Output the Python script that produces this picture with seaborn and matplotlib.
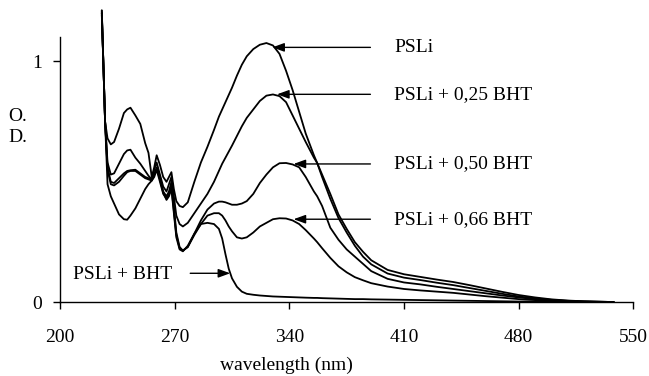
import numpy as np
import pandas as pd
import matplotlib
matplotlib.use("Agg")
import matplotlib.pyplot as plt
import seaborn as sns

# wavelength grid (nm) shared by all spectra
wavelength = [225.5, 226.5, 227.5, 229, 231, 233, 236, 239, 241, 243, 246, 249, 252, 254, 256,
              257.5, 259, 261, 263, 265, 266.5, 268, 269.5, 271, 273, 275, 278, 282, 286, 290,
              294, 297, 299, 301, 303, 305, 308, 311, 314, 318, 322, 326, 330, 334, 338, 342,
              346, 350, 355, 357, 360, 365, 370, 375, 380, 385, 390, 400, 410, 420, 430, 440,
              450, 460, 470, 480, 490, 500, 510, 520, 530, 538]

od_psli = [1.21, 0.98, 0.75, 0.68, 0.655, 0.665, 0.72, 0.785, 0.80, 0.807, 0.775, 0.74, 0.66, 0.62, 0.52,
           0.56, 0.61, 0.57, 0.52, 0.50, 0.52, 0.54, 0.47, 0.42, 0.40, 0.395, 0.415, 0.50, 0.58, 0.645,
           0.715, 0.77, 0.80, 0.83, 0.86, 0.89, 0.94, 0.985, 1.02, 1.05, 1.068, 1.075, 1.065, 1.03, 0.96, 0.88,
           0.79, 0.70, 0.61, 0.578, 0.52, 0.43, 0.35, 0.29, 0.235, 0.19, 0.158, 0.12, 0.103, 0.093, 0.082, 0.072,
           0.06, 0.048, 0.036, 0.025, 0.017, 0.011, 0.007, 0.004, 0.003, 0.002]

od_025 = [1.20, 0.98, 0.75, 0.58, 0.53, 0.535, 0.575, 0.615, 0.63, 0.633, 0.60, 0.575, 0.545, 0.525, 0.51,
          0.55, 0.58, 0.53, 0.48, 0.46, 0.49, 0.52, 0.44, 0.36, 0.325, 0.315, 0.33, 0.37, 0.41, 0.45,
          0.50, 0.545, 0.575, 0.60, 0.625, 0.65, 0.69, 0.73, 0.765, 0.80, 0.835, 0.857, 0.862, 0.855, 0.83, 0.775,
          0.72, 0.665, 0.60, 0.578, 0.53, 0.45, 0.365, 0.305, 0.25, 0.21, 0.175, 0.135, 0.117, 0.106, 0.095, 0.085,
          0.072, 0.058, 0.044, 0.031, 0.021, 0.013, 0.008, 0.005, 0.003, 0.002]

od_050 = [1.21, 0.98, 0.75, 0.56, 0.50, 0.495, 0.515, 0.535, 0.545, 0.548, 0.55, 0.535, 0.52, 0.515, 0.508,
          0.53, 0.56, 0.52, 0.46, 0.44, 0.46, 0.50, 0.40, 0.29, 0.23, 0.215, 0.23, 0.285, 0.34, 0.385,
          0.41, 0.418, 0.418, 0.415, 0.41, 0.405, 0.405, 0.41, 0.42, 0.45, 0.495, 0.53, 0.56, 0.577, 0.578, 0.572,
          0.56, 0.52, 0.46, 0.44, 0.40, 0.31, 0.26, 0.22, 0.19, 0.16, 0.13, 0.098, 0.083, 0.075, 0.065, 0.056,
          0.047, 0.038, 0.029, 0.021, 0.014, 0.009, 0.006, 0.004, 0.003, 0.002]

od_066 = [1.19, 0.98, 0.75, 0.49, 0.44, 0.41, 0.365, 0.345, 0.343, 0.36, 0.39, 0.43, 0.47, 0.49, 0.505,
          0.52, 0.55, 0.50, 0.45, 0.43, 0.45, 0.48, 0.38, 0.28, 0.225, 0.215, 0.23, 0.28, 0.325, 0.36,
          0.37, 0.37, 0.36, 0.34, 0.315, 0.295, 0.27, 0.265, 0.27, 0.29, 0.315, 0.33, 0.345, 0.349, 0.348, 0.34,
          0.325, 0.30, 0.265, 0.25, 0.225, 0.185, 0.15, 0.125, 0.105, 0.092, 0.08, 0.066, 0.056, 0.05, 0.045, 0.04,
          0.033, 0.026, 0.02, 0.014, 0.01, 0.006, 0.004, 0.003, 0.002, 0.002]

od_bht = [1.20, 0.98, 0.75, 0.55, 0.49, 0.485, 0.50, 0.525, 0.54, 0.545, 0.545, 0.53, 0.515, 0.51, 0.505,
          0.53, 0.555, 0.51, 0.455, 0.425, 0.44, 0.47, 0.37, 0.27, 0.22, 0.212, 0.235, 0.285, 0.325, 0.33,
          0.325, 0.305, 0.265, 0.20, 0.14, 0.10, 0.065, 0.045, 0.036, 0.032, 0.029, 0.027, 0.025, 0.024, 0.023, 0.022,
          0.021, 0.02, 0.019, 0.019, 0.018, 0.017, 0.016, 0.015, 0.014, 0.014, 0.013, 0.012, 0.011, 0.01, 0.009, 0.008,
          0.007, 0.006, 0.005, 0.004, 0.004, 0.003, 0.003, 0.002, 0.002, 0.002]

series_names = ["PSLi", "PSLi + 0,25 BHT", "PSLi + 0,50 BHT", "PSLi + 0,66 BHT", "PSLi + BHT"]
series_values = [od_psli, od_025, od_050, od_066, od_bht]

# arrow tips (wavelength, O.D.) for the four labels on the right
label_tips_x = [329.6, 332.5, 342.6, 342.6]
label_tips_y = [1.057, 0.8625, 0.574, 0.345]

sns.set_style("ticks")
plt.rcParams["font.family"] = ["Liberation Serif", "DejaVu Serif"]
plt.rcParams["font.size"] = 14

fig, ax = plt.subplots(figsize=(6.49, 3.76), dpi=100)
fig.subplots_adjust(left=0.0925, right=0.9758, bottom=0.1955, top=0.9016)

for name, values in zip(series_names, series_values):
    sns.lineplot(x=wavelength, y=values, color="black", linewidth=1.3, ax=ax,
                 clip_on=False, legend=False)

ax.set_xlim(200, 550)
ax.set_ylim(0, 1.1)
ax.set_xticks([200, 270, 340, 410, 480, 550])
ax.set_yticks([0, 1])
ax.set_yticklabels(["0", "1"])
sns.despine(ax=ax)
for side in ["left", "bottom"]:
    ax.spines[side].set_color("black")
    ax.spines[side].set_linewidth(1.0)
ax.tick_params(axis="both", direction="out", length=5, width=1.0, color="black",
               labelsize=14, labelcolor="black")
ax.tick_params(axis="x", pad=14)
ax.tick_params(axis="y", pad=8)

arrow = dict(arrowstyle="-|>,head_length=0.55,head_width=0.2", color="black", lw=1.0,
             mutation_scale=13, shrinkA=0, shrinkB=0)
for name, tx, ty in zip(series_names[:4], label_tips_x, label_tips_y):
    ax.annotate("", xy=(tx, ty), xytext=(389.5, ty), arrowprops=arrow)
    ax.text(404.2, ty, name, ha="left", va="center", color="black")

ax.annotate("", xy=(303.9, 0.121), xytext=(279.5, 0.121), arrowprops=arrow)
ax.text(207.9, 0.118, series_names[4], ha="left", va="center", color="black")

ax.set_xlabel("wavelength (nm)", color="black")
ax.xaxis.set_label_coords(0.395, -0.205)
ax.xaxis.label.set_va("top")
fig.text(8 / 649, 1 - 127 / 376, "O.\nD.", ha="left", va="center", color="black",
         linespacing=1.25)

fig.savefig("out.png", dpi=100)
